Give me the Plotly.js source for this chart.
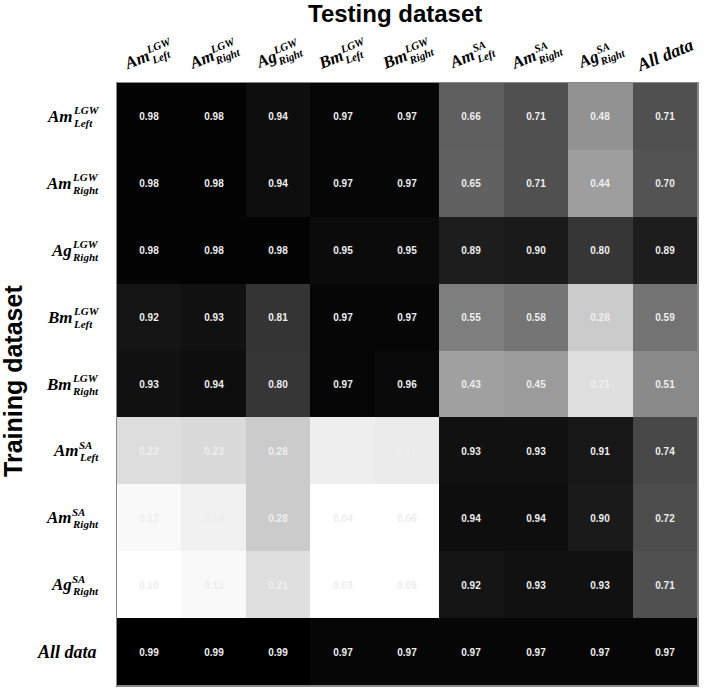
<!DOCTYPE html>
<html>
<head>
<meta charset="utf-8">
<script src="https://cdn.plot.ly/plotly-3.0.1.min.js"></script>
<style>html,body{margin:0;padding:0;background:#fff;}#chart{width:708px;height:692px;}</style>
</head>
<body>
<div id="chart"></div>
<script>
// Categories (base, superscript, subscript)
const labelBase = ["Am", "Am", "Ag", "Bm", "Bm", "Am", "Am", "Ag", "All data"];
const labelSup  = ["LGW", "LGW", "LGW", "LGW", "LGW", "SA", "SA", "SA", ""];
const labelSub  = ["Left", "Right", "Right", "Left", "Right", "Left", "Right", "Right", ""];
const categories = ["Am_LGW_Left", "Am_LGW_Right", "Ag_LGW_Right", "Bm_LGW_Left", "Bm_LGW_Right",
                    "Am_SA_Left", "Am_SA_Right", "Ag_SA_Right", "All data"];

// Values: rows = training dataset, columns = testing dataset
const row1 = [0.98, 0.98, 0.94, 0.97, 0.97, 0.66, 0.71, 0.48, 0.71];
const row2 = [0.98, 0.98, 0.94, 0.97, 0.97, 0.65, 0.71, 0.44, 0.70];
const row3 = [0.98, 0.98, 0.98, 0.95, 0.95, 0.89, 0.90, 0.80, 0.89];
const row4 = [0.92, 0.93, 0.81, 0.97, 0.97, 0.55, 0.58, 0.28, 0.59];
const row5 = [0.93, 0.94, 0.80, 0.97, 0.96, 0.43, 0.45, 0.21, 0.51];
const row6 = [0.22, 0.23, 0.28, 0.16, 0.17, 0.93, 0.93, 0.91, 0.74];
const row7 = [0.12, 0.15, 0.28, 0.04, 0.06, 0.94, 0.94, 0.90, 0.72];
const row8 = [0.10, 0.12, 0.21, 0.03, 0.05, 0.92, 0.93, 0.93, 0.71];
const row9 = [0.99, 0.99, 0.99, 0.97, 0.97, 0.97, 0.97, 0.97, 0.97];
const zValues = [row1, row2, row3, row4, row5, row6, row7, row8, row9];

const titleTop = "Testing dataset";
const titleLeft = "Training dataset";

// ---- text measuring for stacked sup/sub labels ----
const cv = document.createElement('canvas');
const ctx = cv.getContext('2d');
const SERIF = 'Liberation Serif';
function tw(t, size) {
  ctx.font = 'italic bold ' + size + 'px "' + SERIF + '"';
  return ctx.measureText(t).width;
}
const BASE = 17, SCR = 11, ALL = 18;
const SUPUP = 6, SUBDN = -6.5;
function lblFont(size) { return {family: SERIF, size: size, color: '#000', style: 'italic', weight: 'bold'}; }

const annotations = [];
const n = categories.length;
const common = {showarrow: false, borderpad: 0, borderwidth: 0};

// Row labels (left, horizontal, right-aligned)
const R = -20;
for (let i = 0; i < n; i++) {
  if (!labelSup[i]) {
    annotations.push(Object.assign({xref: 'paper', yref: 'y', x: 0, y: i, xanchor: 'right', yanchor: 'middle',
      xshift: R, text: labelBase[i], font: lblFont(ALL)}, common));
    continue;
  }
  const ws = Math.max(tw(labelSup[i], SCR), tw(labelSub[i], SCR));
  const left = R - ws;
  annotations.push(Object.assign({xref: 'paper', yref: 'y', x: 0, y: i, xanchor: 'right', yanchor: 'middle',
    xshift: left, text: labelBase[i], font: lblFont(BASE)}, common));
  annotations.push(Object.assign({xref: 'paper', yref: 'y', x: 0, y: i, xanchor: 'left', yanchor: 'middle',
    xshift: left, yshift: SUPUP, text: labelSup[i], font: lblFont(SCR)}, common));
  annotations.push(Object.assign({xref: 'paper', yref: 'y', x: 0, y: i, xanchor: 'left', yanchor: 'middle',
    xshift: left, yshift: SUBDN, text: labelSub[i], font: lblFont(SCR)}, common));
}

// Column labels (top, rotated)
const ANG = 22;
const TH = ANG * Math.PI / 180, cs = Math.cos(TH), sn = Math.sin(TH);
const UP = 28;
function place(s, h) { return {xshift: s * cs - h * sn, yshift: UP + s * sn + h * cs}; }
for (let j = 0; j < n; j++) {
  const base = {xref: 'x', yref: 'paper', x: j, y: 1, xanchor: 'center', yanchor: 'middle', textangle: -ANG};
  if (!labelSup[j]) {
    annotations.push(Object.assign({}, base, common, {text: labelBase[j], font: lblFont(ALL)}, place(0, 0)));
    continue;
  }
  const wb = tw(labelBase[j], BASE);
  const wsup = tw(labelSup[j], SCR), wsub = tw(labelSub[j], SCR);
  const gap = 1;
  const L = wb + gap + Math.max(wsup, wsub);
  annotations.push(Object.assign({}, base, common, {text: labelBase[j], font: lblFont(BASE)}, place(-L / 2 + wb / 2, 0)));
  annotations.push(Object.assign({}, base, common, {text: labelSup[j], font: lblFont(SCR)}, place(-L / 2 + wb + gap + wsup / 2, SUPUP)));
  annotations.push(Object.assign({}, base, common, {text: labelSub[j], font: lblFont(SCR)}, place(-L / 2 + wb + gap + wsub / 2, SUBDN)));
}

// Axis titles
annotations.push({xref: 'paper', yref: 'paper', x: 0.48, y: 1, xanchor: 'center', yanchor: 'middle',
  yshift: 70, showarrow: false, text: titleTop,
  font: {family: 'Liberation Sans', size: 24, weight: 'bold', color: '#000'}});
annotations.push({xref: 'paper', yref: 'paper', x: 0, y: 0.505, xanchor: 'center', yanchor: 'middle',
  xshift: -104, textangle: -90, showarrow: false, text: titleLeft,
  font: {family: 'Liberation Sans', size: 25, weight: 'bold', color: '#000'}});

const trace = {
  type: 'heatmap',
  x: categories.map((c, i) => i),
  y: categories.map((c, i) => i),
  z: zValues,
  colorscale: [[0, '#ffffff'], [1, '#000000']],
  zmin: 0.1, zmax: 0.99,
  showscale: false,
  hoverinfo: 'skip',
  texttemplate: '%{z:.2f}',
  textfont: {family: 'Liberation Sans', size: 10, weight: 'bold', color: '#eeeeee'}
};

const layout = {
  width: 708, height: 692,
  margin: {l: 117, r: 11, t: 83, b: 7},
  paper_bgcolor: '#ffffff', plot_bgcolor: '#ffffff',
  xaxis: {range: [-0.5, 8.5], showticklabels: false, ticks: '', showgrid: false, zeroline: false,
    showline: true, mirror: true, linecolor: '#888888', linewidth: 1.5, fixedrange: true},
  yaxis: {range: [8.5, -0.5], showticklabels: false, ticks: '', showgrid: false, zeroline: false,
    showline: true, mirror: true, linecolor: '#888888', linewidth: 1.5, fixedrange: true},
  annotations: annotations,
  showlegend: false
};

Plotly.newPlot('chart', [trace], layout, {displayModeBar: false, staticPlot: true});
</script>
</body>
</html>
